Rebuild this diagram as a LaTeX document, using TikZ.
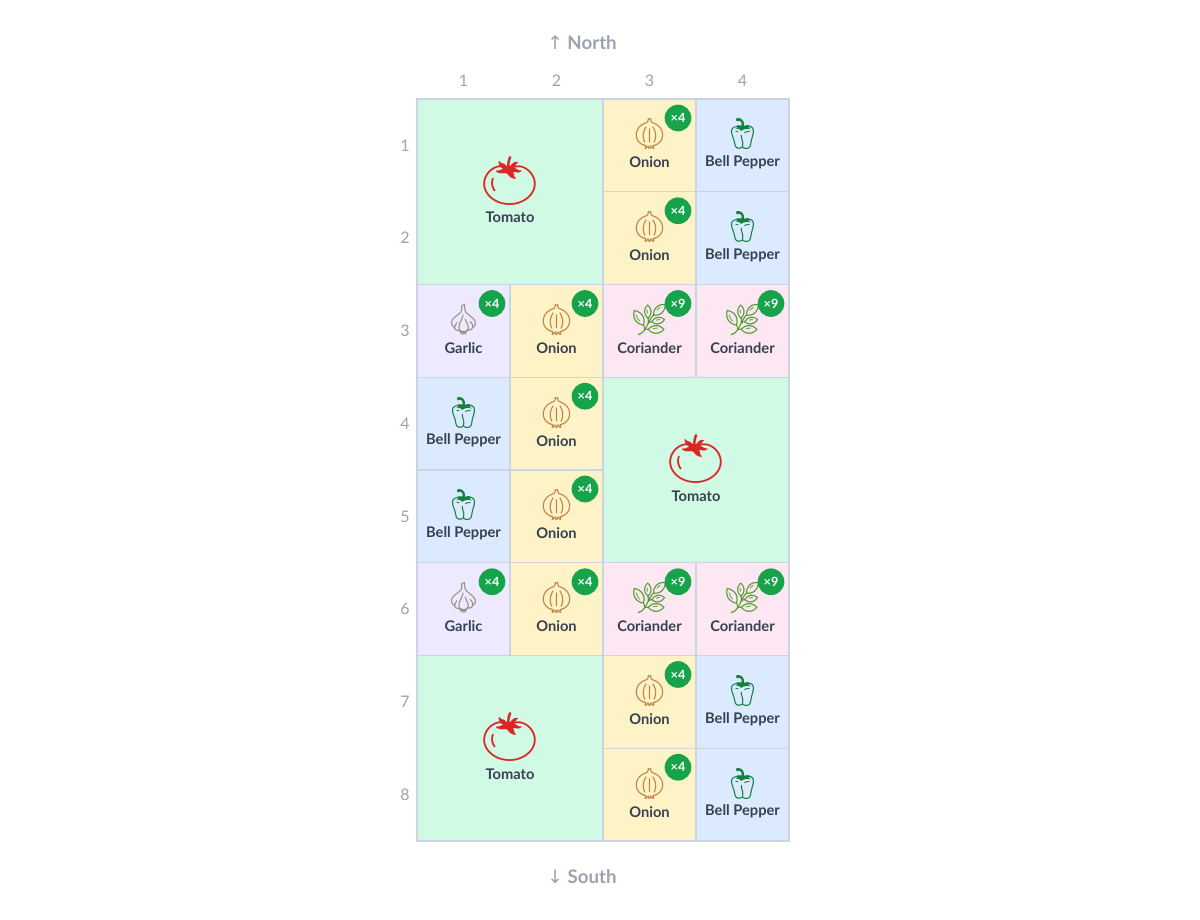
\documentclass[tikz,border=0pt]{standalone}
\usepackage{fontspec}
\setmainfont{Lato}
\newfontfamily\emo{Noto Emoji}
\newfontfamily\arrowfont{DejaVu Sans}
\definecolor{cTom}{HTML}{D1FAE5}
\definecolor{cOni}{HTML}{FEF3C7}
\definecolor{cPep}{HTML}{DBEAFE}
\definecolor{cGar}{HTML}{EDE9FE}
\definecolor{cCor}{HTML}{FCE7F3}
\definecolor{gridline}{HTML}{CBD5E1}
\definecolor{lbl}{HTML}{9CA3AF}
\definecolor{txt}{HTML}{374151}
\definecolor{badge}{HTML}{16A34A}
\definecolor{eTom}{HTML}{DC2626}
\definecolor{eOni}{HTML}{C08040}
\definecolor{ePep}{HTML}{15803D}
\definecolor{eGar}{HTML}{9A8F88}
\definecolor{eCor}{HTML}{4D9A2A}
\tikzset{
 cellbox/.style={draw=gridline,line width=0.8pt},
 plantname/.style={font=\bfseries\fontsize{11}{12}\selectfont,text=txt},
 badgenode/.style={circle,fill=badge,inner sep=0pt,minimum size=20pt,text=white,font=\bfseries\fontsize{9.5}{10}\selectfont},
 axislbl/.style={text=lbl,font=\fontsize{12}{13}\selectfont},
}
\newcommand\gcell[9]{%
 \pgfmathsetmacro\xa{417+93*(#1-1)}\pgfmathsetmacro\ya{99+92.75*(#2-1)}%
 \pgfmathsetmacro\xb{\xa+93*#3}\pgfmathsetmacro\yb{\ya+92.75*#4}%
 \pgfmathsetmacro\xc{(\xa+\xb)/2}\pgfmathsetmacro\yc{(\ya+\yb)/2}%
 \fill[#5] (\xa,\ya) rectangle (\xb,\yb);
 \draw[cellbox] (\xa,\ya) rectangle (\xb,\yb);
 \ifnum#3=2
  \node (e#9) at (\xc,\yc-11) {\emo\color{#7}\fontsize{36}{38}\selectfont #6};
  \node[plantname] (t#9) at (\xc,\yc+26) {#8};
 \else
  \node (e#9) at (\xc,\yc-11) {\emo\color{#7}\fontsize{23}{24}\selectfont #6};
  \node[plantname] (t#9) at (\xc,\yc+17) {#8};
 \fi}
\newcommand\gbadge[3]{%
 \pgfmathsetmacro\xa{417+93*#1-18}\pgfmathsetmacro\ya{99+92.75*(#2-1)+19}%
 \node[badgenode] (b#3) at (\xa,\ya) {×#3};}
\begin{document}
\begin{tikzpicture}[x=0.75pt,y=-0.75pt]
\useasboundingbox (0,0) rectangle (1200,920);
\node[axislbl,font=\bfseries\fontsize{14}{15}\selectfont] (north) at (582,43) {{\arrowfont\mdseries ↑} North};
\node[axislbl,font=\bfseries\fontsize{14}{15}\selectfont] (south) at (582,877) {{\arrowfont\mdseries ↓} South};
\foreach \c in {1,...,4} \node[axislbl] (c\c) at ({417+93*(\c-0.5)},81) {\c};
\foreach \r in {1,...,8} \node[axislbl] (r\r) at (405,{99+92.75*(\r-0.5)}) {\r};
\gcell{1}{1}{2}{2}{cTom}{🍅}{eTom}{Tomato}{a}
\gcell{3}{1}{1}{1}{cOni}{🧅}{eOni}{Onion}{b}\gbadge{3}{1}{4}
\gcell{3}{2}{1}{1}{cOni}{🧅}{eOni}{Onion}{c}\gbadge{3}{2}{4}
\gcell{4}{1}{1}{1}{cPep}{🫑}{ePep}{Bell Pepper}{d}
\gcell{4}{2}{1}{1}{cPep}{🫑}{ePep}{Bell Pepper}{e}
\foreach \r/\n in {3/f,6/g}{
 \gcell{1}{\r}{1}{1}{cGar}{🧄}{eGar}{Garlic}{\n1}\gbadge{1}{\r}{4}
 \gcell{2}{\r}{1}{1}{cOni}{🧅}{eOni}{Onion}{\n2}\gbadge{2}{\r}{4}
 \gcell{3}{\r}{1}{1}{cCor}{🌿}{eCor}{Coriander}{\n3}\gbadge{3}{\r}{9}
 \gcell{4}{\r}{1}{1}{cCor}{🌿}{eCor}{Coriander}{\n4}\gbadge{4}{\r}{9}
}
\foreach \r/\n in {4/h,5/i}{
 \gcell{1}{\r}{1}{1}{cPep}{🫑}{ePep}{Bell Pepper}{\n1}
 \gcell{2}{\r}{1}{1}{cOni}{🧅}{eOni}{Onion}{\n2}\gbadge{2}{\r}{4}
}
\gcell{3}{4}{2}{2}{cTom}{🍅}{eTom}{Tomato}{j}
\gcell{1}{7}{2}{2}{cTom}{🍅}{eTom}{Tomato}{k}
\foreach \r/\n in {7/l,8/m}{
 \gcell{3}{\r}{1}{1}{cOni}{🧅}{eOni}{Onion}{\n1}\gbadge{3}{\r}{4}
 \gcell{4}{\r}{1}{1}{cPep}{🫑}{ePep}{Bell Pepper}{\n2}
}
\end{tikzpicture}
\end{document}
